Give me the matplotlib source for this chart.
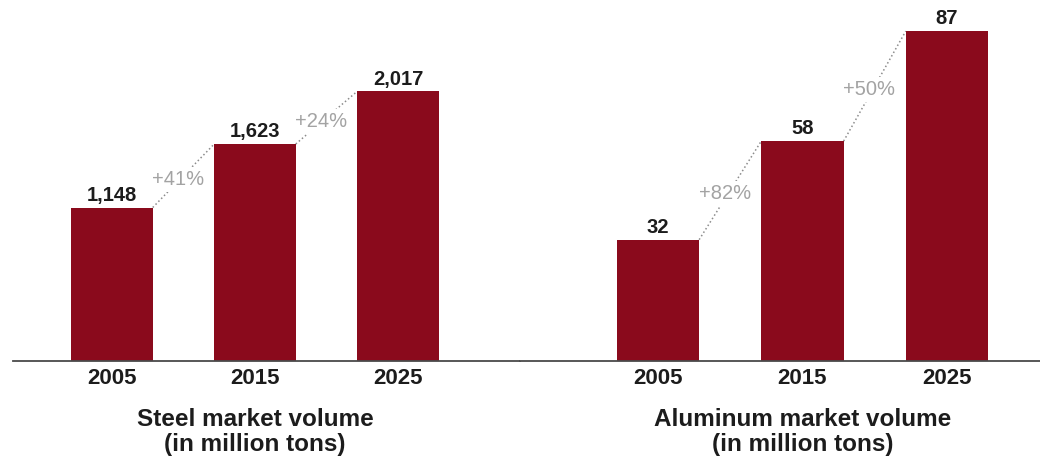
import matplotlib.pyplot as plt

plt.rcParams['font.family'] = ['Liberation Sans', 'DejaVu Sans']

years = ['2005', '2015', '2025']

steel_volume = [1148, 1623, 2017]
steel_growth = ['+41%', '+24%']

aluminum_volume = [32, 58, 87]
aluminum_growth = ['+82%', '+50%']

BAR = '#8a0a1c'
GREY = '#a3a3a3'
INK = '#1c1c1c'


def draw_panel(ax, values, growth, title, xlim, ylim):
    x = list(range(len(values)))
    w = 0.57
    ax.bar(x, values, width=w, color=BAR, zorder=2)

    # value on top of each bar
    for i, v in enumerate(values):
        ax.annotate(f'{v:,}', xy=(i, v), xytext=(0, 2), textcoords='offset points',
                    ha='center', va='bottom', fontsize=14.5, fontweight='bold', color=INK)

    # dotted connector from one bar top to the next, with the growth rate
    for i, g in enumerate(growth):
        x0, y0 = i + w / 2, values[i]
        x1, y1 = i + 1 - w / 2, values[i + 1]
        ax.plot([x0, x1], [y0, y1], linestyle=':', color='#8c8c8c', lw=1.1, zorder=1)
        ax.annotate(g, xy=((x0 + x1) / 2, (y0 + y1) / 2), xytext=(-4, -2.5),
                    textcoords='offset points', ha='center', va='center',
                    fontsize=14.5, color=GREY, zorder=3,
                    bbox=dict(boxstyle='square,pad=0.15', fc='white', ec='none'))

    ax.set_xlim(*xlim)
    ax.set_ylim(*ylim)
    ax.set_xticks(x)
    ax.set_xticklabels(years, fontsize=16, fontweight='bold', color=INK)
    ax.tick_params(axis='x', length=0, pad=5)
    ax.set_yticks([])
    for s in ['top', 'left', 'right']:
        ax.spines[s].set_visible(False)
    ax.spines['bottom'].set_color('#4a4a4a')
    ax.spines['bottom'].set_linewidth(1.3)

    ax.annotate(title, xy=(1, 0), xycoords=('data', 'axes fraction'),
                xytext=(0, -34), textcoords='offset points',
                ha='center', va='top', fontsize=17.5, fontweight='bold',
                color=INK, linespacing=1.08)


fig = plt.figure(figsize=(10.4, 4.57), dpi=100)
ax1 = fig.add_axes([13 / 1040, 96 / 457, 507 / 1040, 361 / 457])
ax2 = fig.add_axes([520 / 1040, 96 / 457, 520 / 1040, 361 / 457])

draw_panel(ax1, steel_volume, steel_growth,
           'Steel market volume\n(in million tons)', (-0.692, 2.853), (0, 2700))
draw_panel(ax2, aluminum_volume, aluminum_growth,
           'Aluminum market volume\n(in million tons)', (-0.955, 2.644), (0, 95.2))

fig.savefig('out.png', dpi=100)
